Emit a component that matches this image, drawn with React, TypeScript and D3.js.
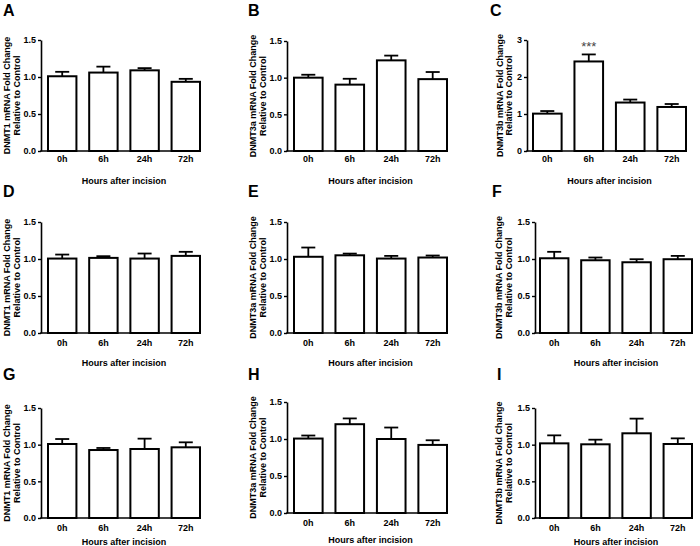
import React, { useEffect, useRef } from 'react';
import * as d3 from 'd3';

// x categories shared by every panel
const categories = ['0h', '6h', '24h', '72h'];
const panelLetters = ['A', 'B', 'C', 'D', 'E', 'F', 'G', 'H', 'I'];
const genes = ['DNMT1', 'DNMT3a', 'DNMT3b', 'DNMT1', 'DNMT3a', 'DNMT3b', 'DNMT1', 'DNMT3a', 'DNMT3b'];
const ticksFine = [0, 0.5, 1.0, 1.5];
const ticksWide = [0, 1, 2, 3];

// mean fold change and SEM
const meanA = [1.01, 1.06, 1.09, 0.935];
const semA = [0.06, 0.08, 0.03, 0.04];
const meanB = [1.0, 0.905, 1.236, 0.98];
const semB = [0.04, 0.08, 0.065, 0.097];
const meanC = [1.01, 2.42, 1.31, 1.19];
const semC = [0.07, 0.19, 0.08, 0.08];
const meanD = [1.006, 1.015, 1.006, 1.042];
const semD = [0.054, 0.023, 0.068, 0.055];
const meanE = [1.03, 1.05, 1.006, 1.02];
const semE = [0.125, 0.023, 0.036, 0.027];
const meanF = [1.01, 0.983, 0.956, 0.997];
const semF = [0.087, 0.037, 0.041, 0.045];
const meanG = [1.009, 0.927, 0.941, 0.964];
const semG = [0.068, 0.028, 0.141, 0.068];
const meanH = [1.006, 1.2, 1.0, 0.92];
const semH = [0.041, 0.078, 0.155, 0.063];
const meanI = [1.018, 1.005, 1.155, 1.009];
const semI = [0.109, 0.063, 0.2, 0.077];
const starsC = ['', '***', '', ''];

const means = [meanA, meanB, meanC, meanD, meanE, meanF, meanG, meanH, meanI];
const sems = [semA, semB, semC, semD, semE, semF, semG, semH, semI];

// panel placement in the 700x546 picture
const layout = [
  { axisX: 41, x0: 48, x1: 200, top: 40, bottom: 151, lx: 3, ly: 16, yl: 10, tickDy: 11, titleDy: 33 },
  { axisX: 287, x0: 294, x1: 447, top: 41, bottom: 151, lx: 248, ly: 16, yl: 256, tickDy: 11, titleDy: 33 },
  { axisX: 527, x0: 533, x1: 686, top: 40, bottom: 151, lx: 490, ly: 16, yl: 502.5, tickDy: 11, titleDy: 33 },
  { axisX: 41, x0: 48, x1: 200, top: 222, bottom: 333, lx: 3, ly: 197, yl: 10, tickDy: 12.5, titleDy: 32.5 },
  { axisX: 287, x0: 294, x1: 447, top: 222, bottom: 333, lx: 248, ly: 197, yl: 256, tickDy: 12.5, titleDy: 32.5 },
  { axisX: 535, x0: 540, x1: 692, top: 222, bottom: 333, lx: 492, ly: 197, yl: 502, tickDy: 12.5, titleDy: 32.5 },
  { axisX: 41, x0: 48, x1: 200, top: 408, bottom: 518, lx: 3, ly: 380, yl: 10, tickDy: 13, titleDy: 26.5 },
  { axisX: 287, x0: 294, x1: 447, top: 402, bottom: 513, lx: 248, ly: 380, yl: 256, tickDy: 12.5, titleDy: 30 },
  { axisX: 535, x0: 540, x1: 692, top: 408, bottom: 518, lx: 497, ly: 380, yl: 502, tickDy: 13, titleDy: 26.5 },
];

const FONT = '"Liberation Sans", Arial, sans-serif';

const App = () => {
  const svgRef = useRef<SVGSVGElement>(null);

  useEffect(() => {
    const svg = d3.select(svgRef.current);
    svg.selectAll('*').remove();
    svg.attr('width', 700).attr('height', 546);

    svg.append('rect').attr('width', 700).attr('height', 546).attr('fill', '#fff');

    layout.forEach((p, i) => {
      const g = svg.append('g');
      const vals = means[i];
      const errs = sems[i];
      const ticks = i === 2 ? ticksWide : ticksFine;
      const yMax = ticks[ticks.length - 1];

      const x = d3.scaleBand<string>()
        .domain(categories)
        .range([p.x0, p.x1])
        .paddingInner(0.31)
        .paddingOuter(0);

      const y = d3.scaleLinear().domain([0, yMax]).range([p.bottom, p.top]);

      // panel letter
      g.append('text')
        .attr('x', p.lx)
        .attr('y', p.ly)
        .style('font-family', FONT)
        .style('font-weight', 'bold')
        .style('font-size', '16px')
        .text(panelLetters[i]);

      // bars
      g.selectAll('.bar')
        .data(vals)
        .enter()
        .append('rect')
        .attr('x', (d, j) => x(categories[j])!)
        .attr('y', d => y(d))
        .attr('width', x.bandwidth())
        .attr('height', d => y(0) - y(d))
        .attr('fill', '#fff')
        .attr('stroke', '#000')
        .attr('stroke-width', 2);

      // error bars (upper only)
      const capHalf = 7;
      vals.forEach((v, j) => {
        const cx = x(categories[j])! + x.bandwidth() / 2;
        g.append('line')
          .attr('x1', cx).attr('x2', cx)
          .attr('y1', y(v)).attr('y2', y(v + errs[j]))
          .attr('stroke', '#000').attr('stroke-width', 1.8);
        g.append('line')
          .attr('x1', cx - capHalf).attr('x2', cx + capHalf)
          .attr('y1', y(v + errs[j])).attr('y2', y(v + errs[j]))
          .attr('stroke', '#000').attr('stroke-width', 1.8);
        if (i === 2 && starsC[j]) {
          g.append('text')
            .attr('x', cx)
            .attr('y', y(v + errs[j]) - 3)
            .attr('text-anchor', 'middle')
            .style('font-family', FONT)
            .style('font-size', '13px')
            .style('fill', '#444')
            .text(starsC[j]);
        }
      });

      // y axis
      const yAxis = g.append('g')
        .attr('transform', `translate(${p.axisX},0)`)
        .call(d3.axisLeft(y)
          .tickValues(ticks)
          .tickSize(3)
          .tickSizeOuter(0)
          .tickPadding(2)
          .tickFormat(d => (i === 2 ? d3.format('d')(d as number) : d3.format('.1f')(d as number))));
      yAxis.select('.domain').attr('stroke-width', 1.6);
      yAxis.selectAll('.tick line').attr('stroke-width', 1.4);
      yAxis.selectAll('text')
        .style('font-family', FONT)
        .style('font-weight', 'bold')
        .style('font-size', '9px')
        .style('fill', '#000');

      // x axis line
      g.append('line')
        .attr('x1', p.axisX - 0.8).attr('x2', p.x1 + 1)
        .attr('y1', y(0)).attr('y2', y(0))
        .attr('stroke', '#000').attr('stroke-width', 1.6);

      // x tick labels
      g.selectAll('.xlab')
        .data(categories)
        .enter()
        .append('text')
        .attr('x', d => x(d)! + x.bandwidth() / 2)
        .attr('y', p.bottom + p.tickDy)
        .attr('text-anchor', 'middle')
        .style('font-family', FONT)
        .style('font-weight', 'bold')
        .style('font-size', '9px')
        .text(d => d);

      // x title
      g.append('text')
        .attr('x', (p.x0 + p.x1) / 2)
        .attr('y', p.bottom + p.titleDy)
        .attr('text-anchor', 'middle')
        .style('font-family', FONT)
        .style('font-weight', 'bold')
        .style('font-size', '9px')
        .text('Hours after incision');

      // y title, two lines
      const cy = (p.top + p.bottom) / 2;
      [`${genes[i]} mRNA Fold Change`, 'Relative to Control'].forEach((t, k) => {
        g.append('text')
          .attr('transform', `translate(${p.yl + k * 9.5},${cy}) rotate(-90)`)
          .attr('text-anchor', 'middle')
          .style('font-family', FONT)
          .style('font-weight', 'bold')
          .style('font-size', '9px')
          .text(t);
      });
    });
  }, []);

  return (
    <div style={{ position: 'absolute', left: 0, top: 0 }}>
      <svg ref={svgRef} style={{ display: 'block' }}></svg>
    </div>
  );
};

export default App;
